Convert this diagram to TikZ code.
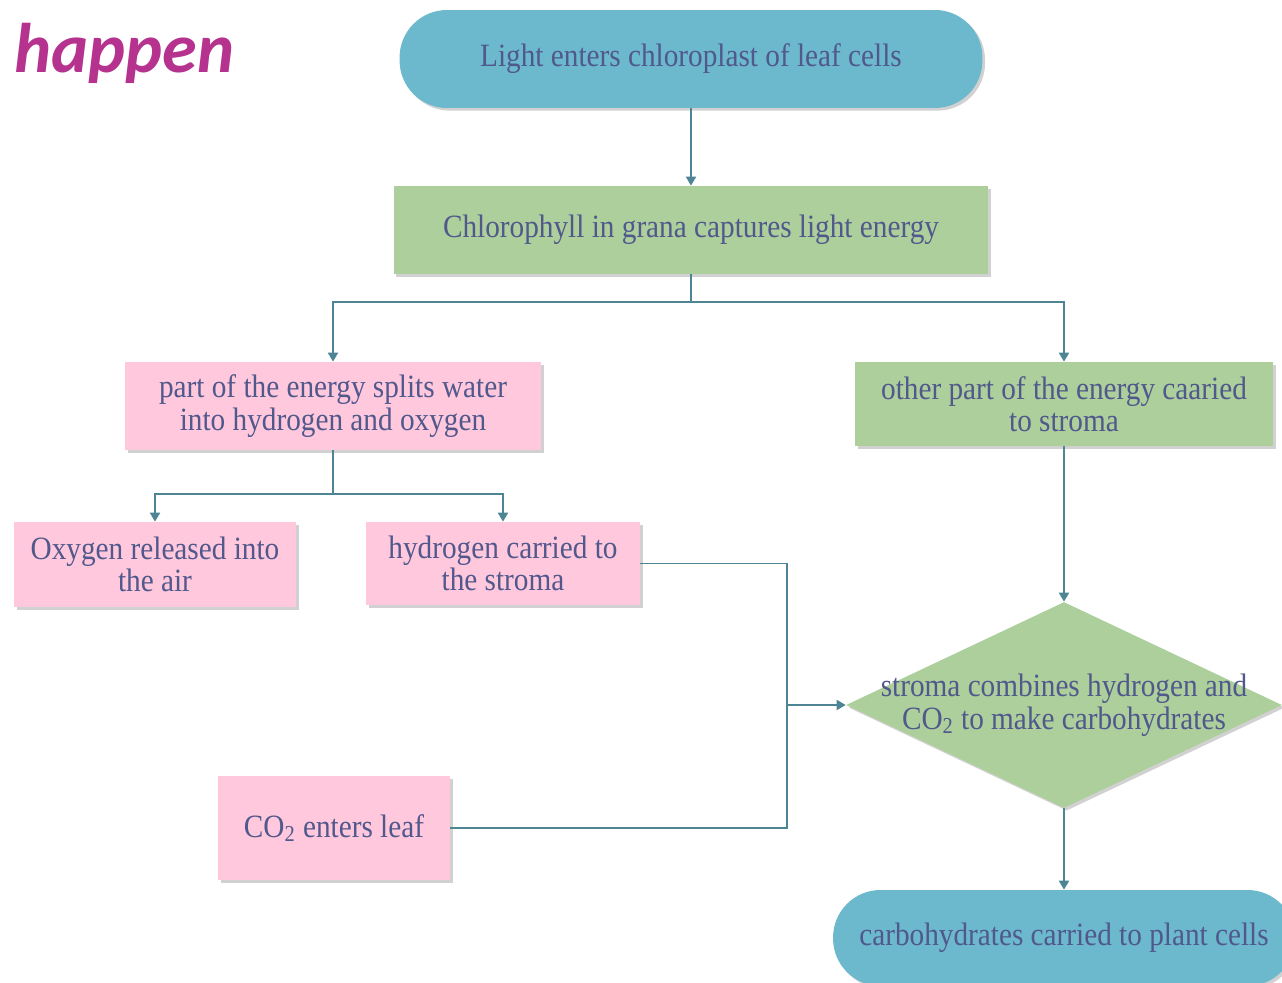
\documentclass[tikz,border=0pt]{standalone}
\usepackage{fontspec}
\setmainfont{Liberation Serif}[FakeStretch=0.9]
\newfontfamily\happenfont{Carlito}
\usepackage{tikz}
\usetikzlibrary{arrows.meta,shapes.geometric,shadows}

\definecolor{termblue}{RGB}{108,185,205}
\definecolor{boxgreen}{RGB}{173,207,156}
\definecolor{boxpink}{RGB}{255,200,221}
\definecolor{flowline}{RGB}{78,133,148}
\definecolor{flowtext}{RGB}{80,88,140}
\definecolor{happenpink}{RGB}{181,51,143}

\tikzset{
	flowtxt/.style={text=flowtext, font=\fontsize{18.5}{18.5}\selectfont, align=center, inner sep=0pt},
	softshadow/.style={drop shadow={shadow xshift=1.5pt, shadow yshift=-1.5pt, opacity=0.3, fill=black!60}},
	terminal/.style={flowtxt, fill=termblue, rounded corners=0.95cm, softshadow},
	greenbox/.style={flowtxt, fill=boxgreen, softshadow},
	pinkbox/.style={flowtxt, fill=boxpink, softshadow},
	link/.style={draw=flowline, line width=1.1pt},
	arr/.style={link, -{Triangle[length=1.8mm,width=2mm]}}
}

\begin{document}
\begin{tikzpicture}[x=0.02cm, y=-0.02cm]
			%%%%% START %%%%%
			\useasboundingbox (0, 0) rectangle (1282, 983);
			
			\node[anchor=base west, text=happenpink, font=\happenfont\bfseries\itshape\fontsize{40}{40}\selectfont] (title) at (8, 73) {happen};
			
			\node[terminal, minimum width=11.66cm, minimum height=1.96cm] (light) at (691, 59) {Light enters chloroplast of leaf cells};
			\node[greenbox, minimum width=11.9cm, minimum height=1.76cm] (grana) at (691, 230) {Chlorophyll in grana captures light energy};
			
			\node[pinkbox, minimum width=8.32cm, minimum height=1.76cm] (split) at (333, 406) {part of the energy splits water\\into hydrogen and oxygen};
			\node[greenbox, minimum width=8.36cm, minimum height=1.68cm] (other) at (1064, 404) {other part of the energy caaried\\to stroma};
			
			\node[pinkbox, minimum width=5.64cm, minimum height=1.7cm] (oxy) at (155, 564.5) {Oxygen released into\\the air};
			\node[pinkbox, minimum width=5.48cm, minimum height=1.66cm] (hyd) at (503, 563.5) {hydrogen carried to\\the stroma};
			\node[pinkbox, minimum width=4.64cm, minimum height=2.08cm] (co2) at (334, 828) {CO\textsubscript{2} enters leaf};
			
			\node[diamond, fill=boxgreen, softshadow, inner sep=0pt, minimum width=8.72cm, minimum height=4.12cm] (stroma) at (1064, 705) {};
			\node[flowtxt] (stromatxt) at (stroma.center) {stroma combines hydrogen and\\CO\textsubscript{2} to make carbohydrates};
			
			\node[terminal, minimum width=9.24cm, minimum height=1.92cm] (carbs) at (1064, 938) {carbohydrates carried to plant cells};
			
			\coordinate (join) at (787, 705);
			
			\draw[arr] (light.south) -- (grana.north);
			\draw[arr] (grana.south) -- ++(0, 28) -| (split.north);
			\draw[arr] (grana.south) -- ++(0, 28) -| (other.north);
			\draw[arr] (split.south) -- ++(0, 44) -| (oxy.north);
			\draw[arr] (split.south) -- ++(0, 44) -| (hyd.north);
			\draw[link] (hyd.east) -| (join);
			\draw[link] (co2.east) -| (join);
			\draw[arr] (join) -- (stroma.west);
			\draw[arr] (other.south) -- (stroma.north);
			\draw[arr] (stroma.south) -- (carbs.north);
			
			%%%%% END %%%%%
\end{tikzpicture}
\end{document}
